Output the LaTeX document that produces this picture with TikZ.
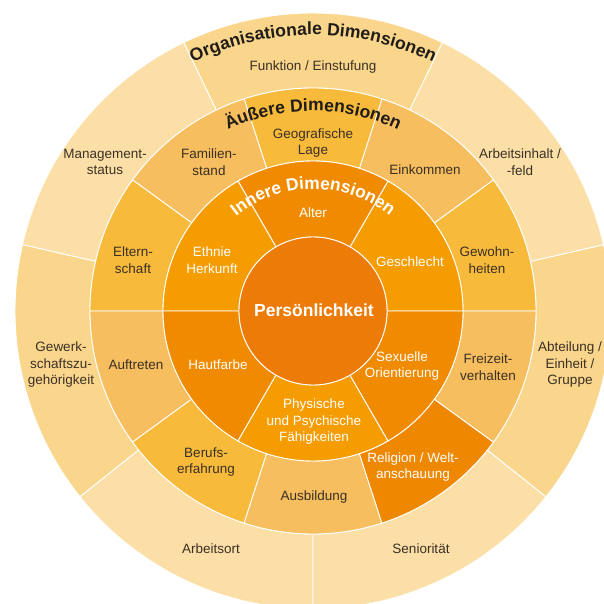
\documentclass[tikz,border=0pt]{standalone}
\usepackage{fontspec}
\setmainfont{Liberation Sans}
\usetikzlibrary{decorations.text}
\definecolor{outerA}{RGB}{250,214,140}
\definecolor{outerB}{RGB}{251,223,166}
\definecolor{midS}{RGB}{248,186,58}
\definecolor{midP}{RGB}{246,190,94}
\definecolor{relcol}{RGB}{238,136,0}
\definecolor{innerL}{RGB}{245,156,0}
\definecolor{innerD}{RGB}{240,139,0}
\definecolor{corecol}{RGB}{236,123,8}
\definecolor{labelcol}{RGB}{58,48,38}
\definecolor{titlecol}{RGB}{32,28,24}
\newcommand\ringseg[5]{%
  \filldraw[fill=#5,segline] (#3:#1pt) arc[start angle=#3,end angle=#4,radius=#1pt]
    -- (#4:#2pt) arc[start angle=#4,end angle=#3,radius=#2pt] -- cycle;}
\tikzset{
  segline/.style={draw=white,line width=0.9pt},
  lbl/.style={font=\fontsize{13.5}{16.5}\selectfont,align=center,text=labelcol,inner sep=0pt},
  wlbl/.style={lbl,text=white},
}
\begin{document}
\begin{tikzpicture}[x=1pt,y=1pt]
\useasboundingbox (-313,-293) rectangle (291,311);
\clip (-313,-293) rectangle (291,311);
% outer ring
\ringseg{223}{298}{64.2857}{115.7143}{outerA}
\ringseg{223}{298}{115.7143}{167.1429}{outerB}
\ringseg{223}{298}{167.1429}{218.5714}{outerA}
\ringseg{223}{298}{218.5714}{270}{outerB}
\ringseg{223}{298}{270}{321.4286}{outerB}
\ringseg{223}{298}{321.4286}{372.8571}{outerA}
\ringseg{223}{298}{12.8571}{64.2857}{outerB}
% middle ring
\ringseg{150}{223}{0}{36}{midS}
\ringseg{150}{223}{36}{72}{midP}
\ringseg{150}{223}{72}{108}{midS}
\ringseg{150}{223}{108}{144}{midP}
\ringseg{150}{223}{144}{180}{midS}
\ringseg{150}{223}{180}{216}{midP}
\ringseg{150}{223}{216}{252}{midS}
\ringseg{150}{223}{252}{288}{midP}
\ringseg{150}{223}{288}{324}{relcol}
\ringseg{150}{223}{324}{360}{midP}
% inner ring
\ringseg{74}{150}{0}{60}{innerL}
\ringseg{74}{150}{60}{120}{innerD}
\ringseg{74}{150}{120}{180}{innerL}
\ringseg{74}{150}{180}{240}{innerD}
\ringseg{74}{150}{240}{300}{innerL}
\ringseg{74}{150}{300}{360}{innerD}
% core
\filldraw[fill=corecol,segline] (0,0) circle[radius=74pt];
\node[font=\fontsize{17.5}{20}\selectfont\bfseries,text=white] (core) at (1,1) {Persönlichkeit};
% curved titles
\path[decorate,decoration={text along path,text align=center,text color=titlecol,
  text={|\fontsize{17.6}{17.6}\selectfont\bfseries|Organisationale Dimensionen}}]
  (170:276pt) arc[start angle=170,end angle=10,radius=276pt];
\path[decorate,decoration={text along path,text align=center,text color=titlecol,
  text={|\fontsize{17.6}{17.6}\selectfont\bfseries|Äußere Dimensionen}}]
  (170:200pt) arc[start angle=170,end angle=10,radius=200pt];
\path[decorate,decoration={text along path,text align=center,text color=white,
  text={|\fontsize{17.4}{17.4}\selectfont\bfseries|Innere Dimensionen}}]
  (175:122pt) arc[start angle=175,end angle=5,radius=122pt];
% outer labels
\node[lbl] (funk) at (0,244) {Funktion / Einstufung};
\node[lbl] (mgmt) at (-208,149) {Management-\\status};
\node[lbl] (arbi) at (207,149) {Arbeitsinhalt /\\-feld};
\node[lbl] (gew) at (-252,-54) {Gewerk-\\schaftszu-\\gehörigkeit};
\node[lbl] (abt) at (257,-54) {Abteilung /\\Einheit /\\Gruppe};
\node[lbl] (ort) at (-102,-238) {Arbeitsort};
\node[lbl] (sen) at (108,-238) {Seniorität};
% middle labels
\node[lbl] (geo) at (0,168) {Geografische\\Lage};
\node[lbl] (fam) at (-104,149) {Familien-\\stand};
\node[lbl] (eink) at (112,141) {Einkommen};
\node[lbl] (elt) at (-180,51) {Eltern-\\schaft};
\node[lbl] (gewo) at (174,51) {Gewohn-\\heiten};
\node[lbl] (auf) at (-177,-54) {Auftreten};
\node[lbl] (frei) at (175,-56) {Freizeit-\\verhalten};
\node[lbl] (beruf) at (-107,-151) {Berufs-\\erfahrung};
\node[wlbl] (rel) at (100,-156) {Religion / Welt-\\anschauung};
\node[lbl] (ausb) at (1,-186) {Ausbildung};
% inner labels
\node[wlbl] (alter) at (0,98) {Alter};
\node[wlbl] (eth) at (-101,51) {Ethnie\\Herkunft};
\node[wlbl] (ges) at (97,49) {Geschlecht};
\node[wlbl] (haut) at (-95,-54) {Hautfarbe};
\node[wlbl] (sex) at (89,-55) {Sexuelle\\Orientierung};
\node[wlbl] (phys) at (1,-111) {Physische\\und Psychische\\Fähigkeiten};
\end{tikzpicture}
\end{document}
